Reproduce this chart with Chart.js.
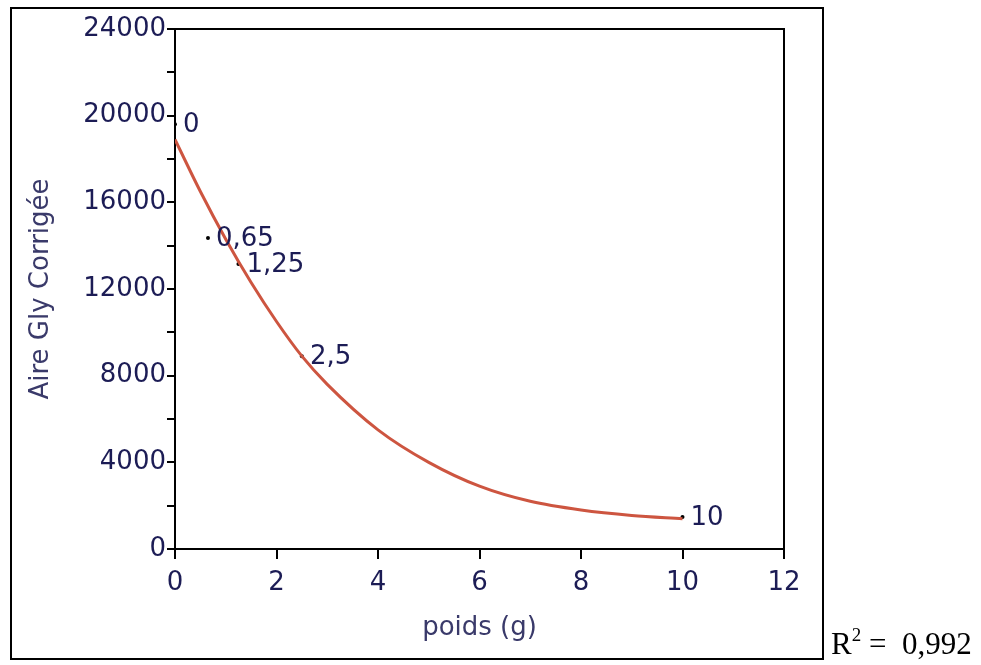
<!DOCTYPE html>
<html>
<head>
<meta charset="utf-8">
<script src="https://cdn.jsdelivr.net/npm/chart.js@4/dist/chart.umd.min.js"></script>
<style>
    body { margin: 0; background: #fff; }
    #wrap { position: relative; width: 981px; height: 665px; }
    #frame { position: absolute; left: 10px; top: 7px; width: 810px; height: 649px; border: 2px solid #000; }
    #r2 { position: absolute; left: 831px; top: 626px; font: 31px "Liberation Serif", "Times New Roman", serif; color: #000; white-space: nowrap; }
    #r2 sup { font-size: 19px; vertical-align: 13px; line-height: 0; }
</style>
</head>
<body>
<div id="wrap">
    <canvas id="chart" width="981" height="665"></canvas>
    <div id="frame"></div>
    <div id="r2">R<sup>2</sup> =&nbsp; 0,992</div>
</div>
<script>
// points mesures
const poids = [0, 0.65, 1.25, 2.5, 10];
const aire = [19600, 14350, 13150, 8900, 1480];
const etiquettes = ['0', '0,65', '1,25', '2,5', '10'];

// courbe de tendance
const courbeX = [0, 0.5, 1, 1.5, 2, 2.5, 3, 4, 5, 6, 7, 8, 9, 10];
const courbeY = [18900, 16500, 14300, 12300, 10500, 8900, 7600, 5500, 4000, 2900, 2200, 1800, 1550, 1400];

const texte = '#1c1c55';
const police = '"DejaVu Sans", Arial, sans-serif';

const cadrePlugin = {
    id: 'cadre',
    afterDraw(chart) {
        const ctx = chart.ctx;
        const a = chart.chartArea;
        ctx.save();
        ctx.strokeStyle = '#000';
        ctx.lineWidth = 2;
        ctx.beginPath();
        ctx.moveTo(a.left, a.top);
        ctx.lineTo(a.right, a.top);
        ctx.lineTo(a.right, a.bottom);
        ctx.stroke();

        // etiquettes des points
        const xs = chart.scales.x, ys = chart.scales.y;
        ctx.fillStyle = texte;
        ctx.font = '26px ' + police;
        ctx.textBaseline = 'middle';
        ctx.textAlign = 'left';
        poids.forEach((p, i) => {
            ctx.fillText(etiquettes[i], xs.getPixelForValue(p) + 8, ys.getPixelForValue(aire[i]) + 1);
        });
        ctx.restore();
    }
};

new Chart(document.getElementById('chart'), {
    data: {
        datasets: [{
            type: 'line',
            data: courbeX.map((x, i) => ({ x: x, y: courbeY[i] })),
            borderColor: '#cd5540',
            borderWidth: 3,
            pointRadius: 0,
            cubicInterpolationMode: 'monotone',
            fill: false
        }, {
            type: 'scatter',
            data: poids.map((x, i) => ({ x: x, y: aire[i] })),
            backgroundColor: '#000',
            borderColor: '#000',
            pointRadius: 2,
            borderWidth: 0
        }]
    },
    options: {
        responsive: false,
        animation: false,
        devicePixelRatio: 1,
        layout: { padding: { left: 0, right: 197, top: 29, bottom: 0 } },
        plugins: { legend: { display: false }, tooltip: { enabled: false } },
        scales: {
            x: {
                type: 'linear',
                min: 0, max: 12,
                afterFit(s) { s.height = 116; },
                ticks: { stepSize: 2, color: texte, font: { family: police, size: 26 }, padding: 9 },
                grid: { drawOnChartArea: false, tickLength: 10, color: '#000', lineWidth: 2 },
                border: { color: '#000', width: 2 },
                title: { display: true, text: 'poids (g)', color: '#3a3a6a', font: { family: police, size: 26 }, padding: { top: 21, bottom: 21 } }
            },
            y: {
                type: 'linear',
                min: 0, max: 24000,
                afterFit(s) { s.width = 175; },
                ticks: {
                    stepSize: 2000,
                    color: texte,
                    font: { family: police, size: 26 },
                    padding: 1,
                    callback: v => (v % 4000 === 0 ? String(v) : '')
                },
                grid: { drawOnChartArea: false, tickLength: 8, color: '#000', lineWidth: 2 },
                border: { color: '#000', width: 2 },
                title: { display: true, text: 'Aire Gly Corrigée', color: '#3a3a6a', font: { family: police, size: 26 }, padding: { top: 26, bottom: 26 } }
            }
        }
    },
    plugins: [cadrePlugin]
});
</script>
</body>
</html>
